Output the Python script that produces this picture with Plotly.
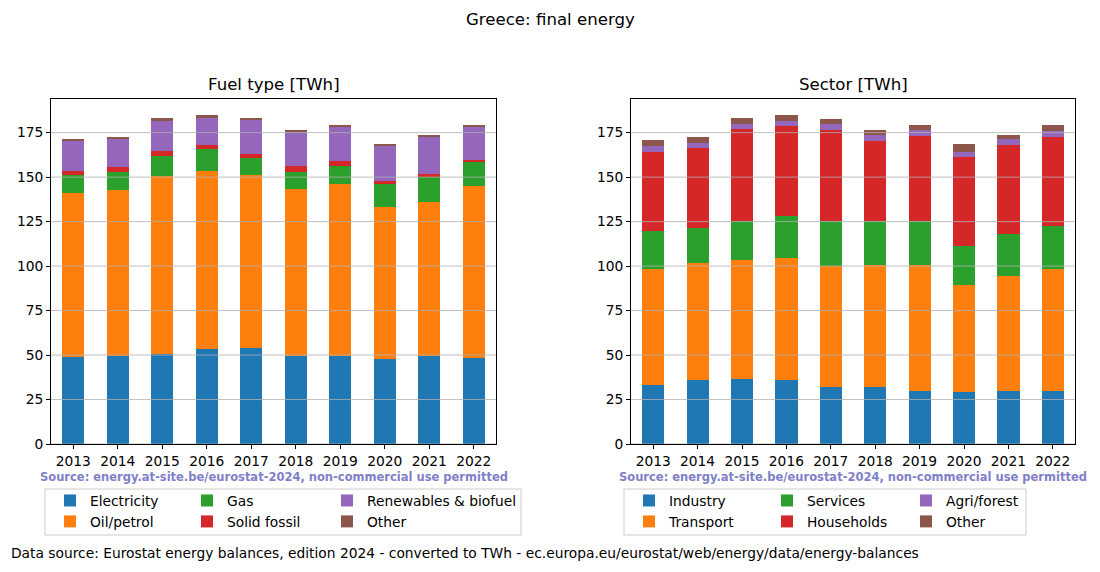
import plotly.graph_objects as go

years = [str(y) for y in range(2013, 2023)]

# Fuel type [TWh]
fuel_names = ["Electricity", "Oil/petrol", "Gas", "Solid fossil", "Renewables & biofuel", "Other"]
electricity = [49.0, 49.7, 50.7, 53.5, 54.0, 49.7, 49.7, 47.9, 49.7, 48.4]
oil_petrol = [92.0, 92.9, 99.8, 99.8, 97.1, 93.5, 96.3, 85.2, 86.2, 96.5]
gas = [10.4, 10.1, 11.2, 12.5, 9.5, 9.5, 10.1, 12.9, 14.0, 14.0]
solid_fossil = [2.3, 2.8, 2.8, 2.1, 2.2, 3.4, 2.8, 1.7, 1.7, 0.6]
renewables = [16.6, 16.3, 17.4, 15.7, 19.7, 19.8, 19.6, 20.2, 21.3, 19.0]
fuel_other = [0.6, 0.6, 1.1, 1.1, 0.2, 0.6, 0.6, 0.5, 0.6, 0.6]
fuel_values = [electricity, oil_petrol, gas, solid_fossil, renewables, fuel_other]

# Sector [TWh]
sector_names = ["Industry", "Transport", "Services", "Households", "Agri/forest", "Other"]
industry = [33.3, 36.1, 36.6, 36.1, 32.2, 32.2, 29.9, 29.4, 29.9, 29.9]
transport = [65.0, 65.6, 66.8, 68.4, 67.6, 68.4, 70.7, 60.0, 64.5, 68.4]
services = [21.3, 19.6, 21.7, 23.6, 25.3, 24.5, 24.5, 21.8, 23.6, 24.2]
households = [44.4, 44.9, 51.8, 50.4, 51.2, 45.0, 47.8, 50.0, 49.9, 49.9]
agri_forest = [3.3, 2.8, 2.8, 2.8, 3.4, 3.4, 3.4, 2.8, 3.3, 3.3]
sector_other = [3.4, 3.4, 3.3, 3.4, 2.8, 2.8, 2.8, 4.4, 2.3, 3.4]
sector_values = [industry, transport, services, households, agri_forest, sector_other]

colors = ["#1f77b4", "#ff7f0e", "#2ca02c", "#d62728", "#9467bd", "#8c564b"]
yticks = [0, 25, 50, 75, 100, 125, 150, 175]

W, H = 1100, 572
FONT = "DejaVu Sans"
FS = 13.8

def px(x):
    return x / W

def py(y):
    return 1 - y / H

fig = go.Figure()

# legend assignment: columns of 2 (matplotlib ncol=3 column-major)
left_legends = ["legend", "legend", "legend2", "legend2", "legend3", "legend3"]
right_legends = ["legend4", "legend4", "legend5", "legend5", "legend6", "legend6"]

for i, (name, vals) in enumerate(zip(fuel_names, fuel_values)):
    fig.add_trace(go.Bar(x=years, y=vals, name=name, marker=dict(color=colors[i], line=dict(width=0)),
                         width=0.5, xaxis="x", yaxis="y", legend=left_legends[i]))
for i, (name, vals) in enumerate(zip(sector_names, sector_values)):
    fig.add_trace(go.Bar(x=years, y=vals, name=name, marker=dict(color=colors[i], line=dict(width=0)),
                         width=0.5, xaxis="x2", yaxis="y2", legend=right_legends[i]))

ymax = 193.9
axis_common = dict(showline=True, linecolor="black", linewidth=1, mirror=True,
                   ticks="outside", ticklen=4, tickcolor="black", tickwidth=1,
                   tickfont=dict(family=FONT, size=FS, color="black"), zeroline=False,
                   automargin=False)

fig.update_layout(
    width=W, height=H,
    margin=dict(l=0, r=0, t=0, b=0, pad=0, autoexpand=False),
    paper_bgcolor="white", plot_bgcolor="white",
    barmode="stack",
    font=dict(family=FONT, size=FS, color="black"),
    xaxis=dict(domain=[px(51), px(496)], anchor="y", type="category", range=[-0.5, 9.5],
               showgrid=False, **axis_common),
    yaxis=dict(domain=[py(444), py(99)], anchor="x", range=[0, ymax], tickvals=yticks,
               showgrid=False, **axis_common),
    xaxis2=dict(domain=[px(631), px(1075)], anchor="y2", type="category", range=[-0.5, 9.5],
                showgrid=False, **axis_common),
    yaxis2=dict(domain=[py(444), py(99)], anchor="x2", range=[0, ymax], tickvals=yticks,
                showgrid=False, **axis_common),
    showlegend=True,
)

# gridlines drawn above the bars (as in the reference)
shapes = []
for xr, yr in (("x domain", "y"), ("x2 domain", "y2")):
    for t in yticks:
        shapes.append(dict(type="line", xref=xr, yref=yr, x0=0, x1=1, y0=t, y1=t,
                           line=dict(color="#b0b0b0", width=0.8), layer="above"))
# legend frames
shapes.append(dict(type="rect", xref="paper", yref="paper", x0=px(45), x1=px(521), y0=py(535), y1=py(489),
                   line=dict(color="#cccccc", width=1), fillcolor="rgba(255,255,255,0.8)", layer="below"))
shapes.append(dict(type="rect", xref="paper", yref="paper", x0=px(624), x1=px(1026), y0=py(535), y1=py(489),
                   line=dict(color="#cccccc", width=1), fillcolor="rgba(255,255,255,0.8)", layer="below"))
fig.update_layout(shapes=shapes)

leg_common = dict(orientation="v", xanchor="left", yanchor="top", bgcolor="rgba(0,0,0,0)",
                  borderwidth=0, font=dict(family=FONT, size=FS, color="black"),
                  traceorder="normal", tracegroupgap=0)
legend_x = {"legend": 50, "legend2": 187, "legend3": 327,
            "legend4": 629, "legend5": 767, "legend6": 906}
for key, xv in legend_x.items():
    fig.update_layout({key: dict(x=px(xv), y=py(485), **leg_common)})

annotations = [
    dict(text="Greece: final energy", x=0.5, y=py(19), xref="paper", yref="paper",
         showarrow=False, font=dict(family=FONT, size=16.6, color="black"), xanchor="center", yanchor="middle"),
    dict(text="Fuel type [TWh]", x=px(273.5), y=py(85), xref="paper", yref="paper",
         showarrow=False, font=dict(family=FONT, size=16.6, color="black"), xanchor="center", yanchor="middle"),
    dict(text="Sector [TWh]", x=px(853), y=py(85), xref="paper", yref="paper",
         showarrow=False, font=dict(family=FONT, size=16.6, color="black"), xanchor="center", yanchor="middle"),
    dict(text="<b>Source: energy.at-site.be/eurostat-2024, non-commercial use permitted</b>",
         x=px(273.5), y=py(477), xref="paper", yref="paper", showarrow=False,
         font=dict(family=FONT, size=11.5, color="#8080c8"), xanchor="center", yanchor="middle"),
    dict(text="<b>Source: energy.at-site.be/eurostat-2024, non-commercial use permitted</b>",
         x=px(853), y=py(477), xref="paper", yref="paper", showarrow=False,
         font=dict(family=FONT, size=11.5, color="#8080c8"), xanchor="center", yanchor="middle"),
    dict(text="Data source: Eurostat energy balances, edition 2024 - converted to TWh - ec.europa.eu/eurostat/web/energy/data/energy-balances",
         x=px(9), y=py(553), xref="paper", yref="paper", showarrow=False,
         font=dict(family=FONT, size=FS, color="black"), xanchor="left", yanchor="middle"),
]
fig.update_layout(annotations=annotations)

fig.write_html("out.html", config={"displayModeBar": False},
               post_script="document.body.style.margin='0px';document.body.style.padding='0px';"
                           "document.body.style.overflow='hidden';")
